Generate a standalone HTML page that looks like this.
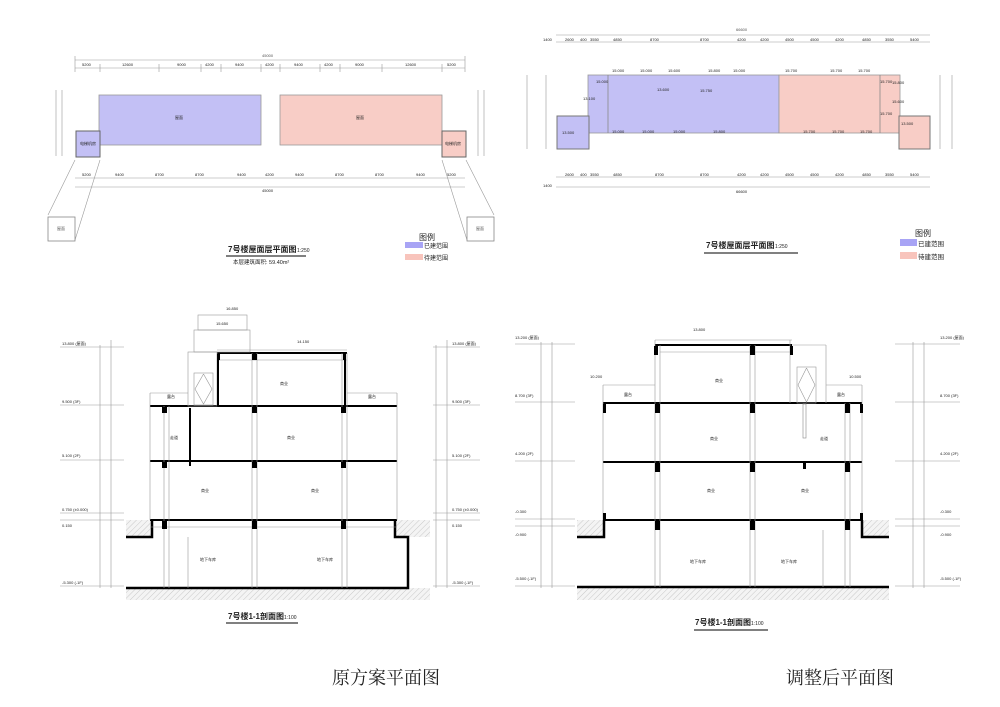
<!DOCTYPE html>
<html><head><meta charset="utf-8"><style>
html,body{margin:0;padding:0;background:#fff}
svg{display:block}
text{font-family:"Liberation Sans","Noto Sans CJK SC",sans-serif;fill:#222}
.s{font-size:4px;fill:#555}
.l{stroke:#999;stroke-width:.6;fill:none}
.k{stroke:#000;fill:none}
</style></head><body>
<svg width="1000" height="707" viewBox="0 0 1000 707" xmlns="http://www.w3.org/2000/svg">
<defs>
<pattern id="h" width="4" height="4" patternUnits="userSpaceOnUse" patternTransform="rotate(45)">
<rect width="4" height="4" fill="#f4f4f4"/><line x1="0" y1="0" x2="0" y2="4" stroke="#aaa" stroke-width=".6"/></pattern>
</defs>
<rect width="1000" height="707" fill="#fff"/>

<!-- ===== Top-left plan ===== -->
<g>
<line class="l" x1="75" y1="60" x2="465" y2="60"/><line class="l" x1="75" y1="68" x2="465" y2="68"/>
<text class="s" x="262" y="57">45000</text>
<g class="l">
<line x1="75" y1="56" x2="75" y2="72"/><line x1="100" y1="64" x2="100" y2="72"/><line x1="159" y1="64" x2="159" y2="72"/><line x1="201" y1="64" x2="201" y2="72"/><line x1="221" y1="64" x2="221" y2="72"/><line x1="261" y1="64" x2="261" y2="72"/><line x1="280" y1="64" x2="280" y2="72"/><line x1="320" y1="64" x2="320" y2="72"/><line x1="340" y1="64" x2="340" y2="72"/><line x1="382" y1="64" x2="382" y2="72"/><line x1="442" y1="64" x2="442" y2="72"/><line x1="465" y1="56" x2="465" y2="72"/>
</g>
<g class="s"><text x="82" y="66">5200</text><text x="122" y="66">12600</text><text x="177" y="66">9000</text><text x="205" y="66">4200</text><text x="235" y="66">9400</text><text x="265" y="66">4200</text><text x="294" y="66">9400</text><text x="324" y="66">4200</text><text x="355" y="66">9000</text><text x="405" y="66">12600</text><text x="447" y="66">5200</text></g>
<rect x="99" y="95" width="162" height="50" fill="#c3c0f5" stroke="#999" stroke-width=".8"/>
<rect x="280" y="95" width="162" height="50" fill="#f8cdc6" stroke="#999" stroke-width=".8"/>
<rect x="76" y="131" width="24" height="26" fill="#c3c0f5" stroke="#666" stroke-width="1"/>
<rect x="442" y="131" width="24" height="26" fill="#f8cdc6" stroke="#666" stroke-width="1"/>
<g class="s"><text x="175" y="119">屋面</text><text x="356" y="119">屋面</text><text x="80" y="145">电梯机房</text><text x="445" y="145">电梯机房</text></g>
<line class="l" x1="56" y1="90" x2="56" y2="156"/><line class="l" x1="62" y1="90" x2="62" y2="156"/>
<line class="l" x1="478" y1="90" x2="478" y2="156"/><line class="l" x1="484" y1="90" x2="484" y2="156"/>
<line class="l" x1="75" y1="178" x2="465" y2="178"/><line class="l" x1="75" y1="187" x2="465" y2="187"/>
<g class="s"><text x="82" y="176">5200</text><text x="115" y="176">9400</text><text x="155" y="176">8700</text><text x="195" y="176">8700</text><text x="237" y="176">9400</text><text x="265" y="176">4200</text><text x="295" y="176">9400</text><text x="335" y="176">8700</text><text x="375" y="176">8700</text><text x="416" y="176">9400</text><text x="447" y="176">5200</text><text x="262" y="192">45000</text></g>
<line class="l" x1="75" y1="160" x2="48" y2="215"/><line class="l" x1="100" y1="160" x2="75" y2="240"/>
<line class="l" x1="442" y1="160" x2="467" y2="240"/><line class="l" x1="466" y1="160" x2="494" y2="215"/>
<rect x="48" y="217" width="27" height="24" fill="#fff" stroke="#888" stroke-width=".8"/>
<rect x="467" y="217" width="27" height="24" fill="#fff" stroke="#888" stroke-width=".8"/>
<text class="s" x="57" y="230">屋面</text><text class="s" x="476" y="230">屋面</text>
<text x="228" y="252" font-size="8" font-weight="bold">7号楼屋面层平面图</text><text x="297" y="252" font-size="5">1:250</text>
<line x1="226" y1="256" x2="306" y2="256" stroke="#000" stroke-width="1"/>
<text x="233" y="264" font-size="5.5">本层建筑面积: 59.40m²</text>
<text x="419" y="240" font-size="8">图例</text>
<rect x="405" y="242" width="18" height="6" fill="#a8a4f5"/><text x="424" y="248" font-size="6">已建范围</text>
<rect x="405" y="254" width="18" height="6" fill="#f8c4bc"/><text x="424" y="260" font-size="6">待建范围</text>
</g>

<!-- ===== Top-right plan ===== -->
<g>
<line class="l" x1="556" y1="35" x2="930" y2="35"/><line class="l" x1="556" y1="42" x2="930" y2="42"/>
<text class="s" x="736" y="31">66600</text>
<g class="s"><text x="543" y="41">1400</text><text x="565" y="41">2600</text><text x="580" y="41">400</text><text x="590" y="41">3550</text><text x="613" y="41">4850</text><text x="650" y="41">8700</text><text x="700" y="41">8700</text><text x="737" y="41">4200</text><text x="760" y="41">4200</text><text x="785" y="41">4500</text><text x="810" y="41">4500</text><text x="835" y="41">4200</text><text x="862" y="41">4850</text><text x="885" y="41">3550</text><text x="910" y="41">5400</text></g>
<rect x="588" y="75" width="191" height="58" fill="#c3c0f5" stroke="#999" stroke-width=".8"/>
<rect x="779" y="75" width="121" height="58" fill="#f8cdc6" stroke="#999" stroke-width=".8"/>
<line x1="880" y1="75" x2="880" y2="133" stroke="#888" stroke-width=".8"/>
<line x1="608" y1="75" x2="608" y2="133" stroke="#888" stroke-width=".8"/>
<rect x="557" y="116" width="32" height="33" fill="#c3c0f5" stroke="#777" stroke-width="1"/>
<rect x="899" y="116" width="31" height="33" fill="#f8cdc6" stroke="#777" stroke-width="1"/>
<g class="s"><text x="612" y="72">15.000</text><text x="640" y="72">15.000</text><text x="668" y="72">15.600</text><text x="708" y="72">15.800</text><text x="733" y="72">15.000</text><text x="785" y="72">15.700</text><text x="830" y="72">15.700</text><text x="858" y="72">15.700</text><text x="657" y="91">13.600</text><text x="700" y="92">15.750</text><text x="880" y="83">15.700</text><text x="892" y="84">15.800</text><text x="892" y="103">15.600</text><text x="583" y="100">13.100</text><text x="596" y="83">15.000</text><text x="880" y="115">15.700</text><text x="562" y="134">13.500</text><text x="901" y="125">13.500</text><text x="612" y="133">15.000</text><text x="642" y="133">15.000</text><text x="673" y="133">15.000</text><text x="713" y="133">15.800</text><text x="803" y="133">15.700</text><text x="832" y="133">15.700</text><text x="860" y="133">15.700</text></g>
<line class="l" x1="527" y1="75" x2="527" y2="149"/><line class="l" x1="546" y1="75" x2="546" y2="149"/>
<line class="l" x1="940" y1="75" x2="940" y2="149"/><line class="l" x1="952" y1="75" x2="952" y2="149"/>
<line class="l" x1="556" y1="177" x2="930" y2="177"/><line class="l" x1="556" y1="187" x2="930" y2="187"/>
<g class="s"><text x="565" y="176">2600</text><text x="580" y="176">400</text><text x="590" y="176">3550</text><text x="613" y="176">4850</text><text x="655" y="176">8700</text><text x="700" y="176">8700</text><text x="737" y="176">4200</text><text x="760" y="176">4200</text><text x="785" y="176">4500</text><text x="810" y="176">4500</text><text x="835" y="176">4200</text><text x="862" y="176">4850</text><text x="885" y="176">3550</text><text x="910" y="176">5400</text><text x="543" y="187">1400</text><text x="736" y="193">66600</text></g>
<text x="706" y="248" font-size="8" font-weight="bold">7号楼屋面层平面图</text><text x="775" y="248" font-size="5">1:250</text>
<line x1="704" y1="253" x2="798" y2="253" stroke="#000" stroke-width="1"/>
<text x="915" y="236" font-size="8">图例</text>
<rect x="900" y="239" width="17" height="7" fill="#a8a4f5"/><text x="918" y="246" font-size="6.5">已建范围</text>
<rect x="900" y="252" width="17" height="7" fill="#f8c4bc"/><text x="918" y="259" font-size="6.5">待建范围</text>
</g>

<!-- ===== Bottom-left section ===== -->
<g>
<rect x="126" y="520" width="304" height="17" fill="url(#h)"/>
<rect x="126" y="588" width="304" height="12" fill="url(#h)"/>
<rect x="152" y="520" width="243" height="68" fill="#fff"/>
<rect x="126" y="537" width="282" height="51" fill="#fff"/>
<polyline points="126,537 152,537 152,520" class="k" stroke-width="2.5"/>
<polyline points="395,520 395,537 408,537 408,588 126,588" class="k" stroke-width="2.5"/>
<line x1="150" y1="520" x2="397" y2="520" stroke="#000" stroke-width="2"/>
<line x1="150" y1="461" x2="397" y2="461" stroke="#000" stroke-width="2"/>
<line x1="150" y1="406" x2="397" y2="406" stroke="#000" stroke-width="2"/>
<line x1="217" y1="353" x2="347" y2="353" stroke="#000" stroke-width="2"/>
<g class="l"><line x1="150" y1="406" x2="150" y2="520"/><line x1="397" y1="406" x2="397" y2="520"/>
<line x1="164" y1="406" x2="164" y2="588"/><line x1="169" y1="406" x2="169" y2="588"/>
<line x1="252" y1="353" x2="252" y2="588"/><line x1="257" y1="353" x2="257" y2="588"/>
<line x1="342" y1="353" x2="342" y2="588"/><line x1="347" y1="353" x2="347" y2="588"/>
<line x1="188" y1="537" x2="188" y2="588"/><line x1="217" y1="350" x2="347" y2="350"/>
<line x1="217" y1="360" x2="347" y2="360"/><line x1="150" y1="393" x2="188" y2="393"/><line x1="347" y1="393" x2="397" y2="393"/>
<line x1="150" y1="393" x2="150" y2="406"/><line x1="397" y1="393" x2="397" y2="406"/>
<rect x="188" y="352" width="29" height="54"/><rect x="194" y="330" width="56" height="22"/><rect x="198" y="315" width="49" height="15"/>
<rect x="194" y="373" width="19" height="32"/><polyline points="203.5,374 212,389 203.5,404 195,389 203.5,374"/>
<line x1="150" y1="527" x2="397" y2="527"/>
</g>
<g fill="#000"><rect x="162" y="407" width="5" height="6"/><rect x="252" y="407" width="5" height="6"/><rect x="341" y="407" width="5" height="6"/><rect x="162" y="462" width="5" height="6"/><rect x="252" y="462" width="5" height="6"/><rect x="341" y="462" width="5" height="6"/><rect x="162" y="521" width="5" height="8"/><rect x="252" y="521" width="5" height="8"/><rect x="341" y="521" width="5" height="8"/><rect x="217" y="354" width="3" height="6"/><rect x="252" y="354" width="5" height="6"/><rect x="343" y="354" width="3" height="6"/><rect x="189" y="408" width="2" height="58"/><rect x="217" y="354" width="2" height="52"/><rect x="344" y="354" width="2" height="52"/></g>
<g class="s"><text x="226" y="310">16.850</text><text x="216" y="325">15.650</text><text x="297" y="343">14.150</text><text x="280" y="385">商业</text><text x="167" y="398">露台</text><text x="368" y="398">露台</text><text x="170" y="439">走道</text><text x="287" y="439">商业</text><text x="201" y="492">商业</text><text x="311" y="492">商业</text><text x="200" y="561">地下车库</text><text x="317" y="561">地下车库</text></g>
<g class="l"><line x1="60" y1="347" x2="124" y2="347"/><line x1="60" y1="405" x2="124" y2="405"/><line x1="60" y1="460" x2="124" y2="460"/><line x1="60" y1="513" x2="124" y2="513"/><line x1="60" y1="520" x2="124" y2="520"/><line x1="60" y1="586" x2="124" y2="586"/>
<line x1="100" y1="345" x2="100" y2="588"/><line x1="111" y1="340" x2="111" y2="588"/>
<line x1="433" y1="347" x2="480" y2="347"/><line x1="433" y1="405" x2="480" y2="405"/><line x1="433" y1="460" x2="480" y2="460"/><line x1="433" y1="513" x2="480" y2="513"/><line x1="433" y1="520" x2="480" y2="520"/><line x1="433" y1="586" x2="480" y2="586"/>
<line x1="436" y1="345" x2="436" y2="588"/><line x1="447" y1="340" x2="447" y2="588"/></g>
<g class="s"><text x="62" y="345">13.800 (屋面)</text><text x="62" y="403">9.500 (3F)</text><text x="62" y="457">5.100 (2F)</text><text x="62" y="511">0.750 (±0.000)</text><text x="62" y="527">0.150</text><text x="62" y="584">-5.300 (-1F)</text>
<text x="452" y="345">13.800 (屋面)</text><text x="452" y="403">9.500 (3F)</text><text x="452" y="457">5.100 (2F)</text><text x="452" y="511">0.750 (±0.000)</text><text x="452" y="527">0.150</text><text x="452" y="584">-5.300 (-1F)</text></g>
<text x="228" y="619" font-size="8" font-weight="bold">7号楼1-1剖面图</text><text x="284" y="619" font-size="5">1:100</text>
<line x1="226" y1="623" x2="298" y2="623" stroke="#000" stroke-width="1"/>
</g>

<!-- ===== Bottom-right section ===== -->
<g>
<rect x="577" y="520" width="312" height="17" fill="url(#h)"/>
<rect x="577" y="587" width="312" height="13" fill="url(#h)"/>
<rect x="603" y="518" width="259" height="69" fill="#fff"/>
<rect x="577" y="537" width="312" height="50" fill="#fff"/>
<polyline points="577,537 604,537 604,520" class="k" stroke-width="2.5"/>
<polyline points="862,520 862,537 889,537" class="k" stroke-width="2.5"/>
<line x1="577" y1="587" x2="889" y2="587" stroke="#000" stroke-width="2.5"/>
<line x1="603" y1="520" x2="862" y2="520" stroke="#000" stroke-width="2"/>
<line x1="603" y1="462" x2="862" y2="462" stroke="#000" stroke-width="2"/>
<line x1="603" y1="403" x2="862" y2="403" stroke="#000" stroke-width="2"/>
<line x1="655" y1="345" x2="792" y2="345" stroke="#000" stroke-width="2"/>
<g class="l"><line x1="603" y1="403" x2="603" y2="520"/><line x1="862" y1="403" x2="862" y2="520"/>
<line x1="655" y1="340" x2="655" y2="587"/><line x1="660" y1="345" x2="660" y2="587"/>
<line x1="750" y1="345" x2="750" y2="587"/><line x1="755" y1="345" x2="755" y2="587"/>
<line x1="845" y1="403" x2="845" y2="587"/><line x1="850" y1="403" x2="850" y2="587"/>
<line x1="790" y1="340" x2="790" y2="403"/><line x1="655" y1="340" x2="792" y2="340"/>
<line x1="660" y1="352" x2="790" y2="352"/><line x1="792" y1="345" x2="826" y2="345"/><line x1="826" y1="345" x2="826" y2="403"/>
<rect x="797" y="367" width="19" height="36"/><polyline points="806.5,368 815,385 806.5,402 798,385 806.5,368"/>
<line x1="603" y1="385" x2="655" y2="385"/><line x1="826" y1="385" x2="862" y2="385"/><line x1="603" y1="385" x2="603" y2="403"/><line x1="862" y1="385" x2="862" y2="403"/>
<line x1="823" y1="530" x2="823" y2="587"/></g>
<g fill="#000"><rect x="654" y="346" width="4" height="9"/><rect x="750" y="346" width="5" height="9"/><rect x="790" y="346" width="3" height="9"/><rect x="655" y="404" width="5" height="9"/><rect x="750" y="404" width="5" height="9"/><rect x="845" y="404" width="5" height="9"/><rect x="603" y="404" width="3" height="9"/><rect x="860" y="404" width="3" height="9"/><rect x="655" y="463" width="5" height="9"/><rect x="750" y="463" width="5" height="9"/><rect x="845" y="463" width="5" height="9"/><rect x="803" y="463" width="3" height="6"/><rect x="655" y="521" width="5" height="9"/><rect x="750" y="521" width="5" height="9"/><rect x="845" y="521" width="5" height="9"/><rect x="603" y="513" width="3" height="7"/><rect x="860" y="513" width="3" height="7"/></g>
<rect x="803" y="404" width="3" height="34" fill="#fff" stroke="#888" stroke-width=".6"/>
<g class="s"><text x="693" y="331">13.800</text><text x="590" y="378">10.200</text><text x="849" y="378">10.500</text><text x="715" y="382">商业</text><text x="624" y="396">露台</text><text x="837" y="396">露台</text><text x="710" y="440">商业</text><text x="820" y="440">走道</text><text x="707" y="492">商业</text><text x="801" y="492">商业</text><text x="690" y="563">地下车库</text><text x="781" y="563">地下车库</text></g>
<g class="l"><line x1="515" y1="344" x2="575" y2="344"/><line x1="515" y1="402" x2="575" y2="402"/><line x1="515" y1="461" x2="575" y2="461"/><line x1="515" y1="519" x2="575" y2="519"/><line x1="515" y1="526" x2="575" y2="526"/><line x1="515" y1="586" x2="575" y2="586"/>
<line x1="541" y1="342" x2="541" y2="588"/><line x1="552" y1="342" x2="552" y2="588"/>
<line x1="895" y1="344" x2="960" y2="344"/><line x1="895" y1="402" x2="960" y2="402"/><line x1="895" y1="461" x2="960" y2="461"/><line x1="895" y1="519" x2="960" y2="519"/><line x1="895" y1="526" x2="960" y2="526"/><line x1="895" y1="586" x2="960" y2="586"/>
<line x1="913" y1="342" x2="913" y2="588"/><line x1="924" y1="342" x2="924" y2="588"/></g>
<g class="s"><text x="515" y="339">13.200 (屋面)</text><text x="515" y="397">8.700 (3F)</text><text x="515" y="455">4.200 (2F)</text><text x="515" y="513">-0.300</text><text x="515" y="536">-0.900</text><text x="515" y="580">-5.500 (-1F)</text>
<text x="940" y="339">13.200 (屋面)</text><text x="940" y="397">8.700 (3F)</text><text x="940" y="455">4.200 (2F)</text><text x="940" y="513">-0.300</text><text x="940" y="536">-0.900</text><text x="940" y="580">-5.500 (-1F)</text></g>
<text x="695" y="625" font-size="8" font-weight="bold">7号楼1-1剖面图</text><text x="751" y="625" font-size="5">1:100</text>
<line x1="694" y1="630" x2="768" y2="630" stroke="#000" stroke-width="1"/>
</g>

<text x="332" y="684" font-size="18" style='font-family:"Liberation Serif","Noto Serif CJK SC",serif'>原方案平面图</text>
<text x="786" y="684" font-size="18" style='font-family:"Liberation Serif","Noto Serif CJK SC",serif'>调整后平面图</text>
</svg>
</body></html>
